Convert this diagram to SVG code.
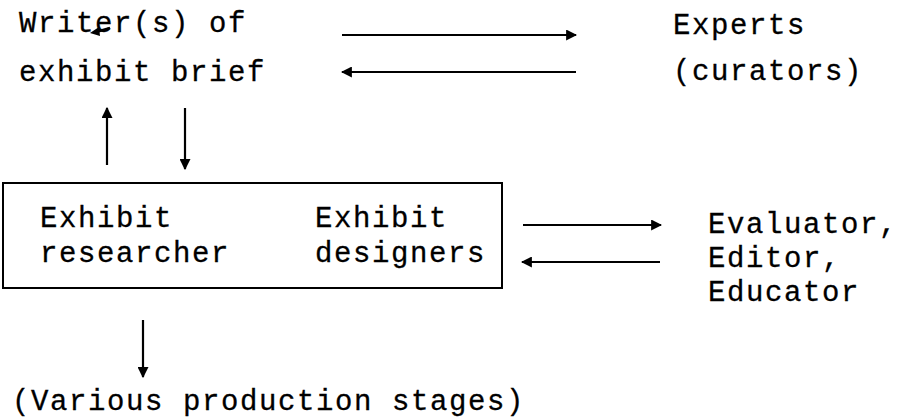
<svg xmlns="http://www.w3.org/2000/svg" width="897" height="419" viewBox="0 0 897 419">
<defs>
<marker id="ah" viewBox="0 0 10 10" refX="9" refY="5" markerWidth="5" markerHeight="5" orient="auto" markerUnits="strokeWidth">
<path d="M0,0 L10,5 L0,10 Z" fill="#000"/>
</marker>
</defs>
<style>
text{font-family:"Liberation Mono","Courier New",monospace;font-size:29px;letter-spacing:1.6px;fill:#000;stroke:#000;stroke-width:0.3}
.c{stroke:#000;stroke-width:2.2;fill:none;marker-end:url(#ah)}
</style>
<rect width="897" height="419" fill="#fff"/>
<g id="writers">
<text x="19" y="32">Writer(s) of</text>
<text x="19" y="81">exhibit brief</text>
<path d="M110,28 L96,32" stroke="#000" stroke-width="2.5" fill="none"/>
<path d="M90,33 L99,27 L100,36 Z" fill="#000"/>
</g>
<g id="experts">
<text x="673" y="34">Experts</text>
<text x="673" y="80">(curators)</text>
</g>
<g id="team">
<rect x="3" y="183" width="499" height="105" fill="none" stroke="#000" stroke-width="2"/>
<text x="40" y="227">Exhibit</text>
<text x="40" y="262">researcher</text>
<text x="315" y="227">Exhibit</text>
<text x="315" y="262">designers</text>
</g>
<g id="reviewers">
<text x="708" y="233">Evaluator,</text>
<text x="708" y="267">Editor,</text>
<text x="708" y="301">Educator</text>
</g>
<g id="production">
<text x="12" y="410">(Various production stages)</text>
</g>
<g id="connectors">
<line class="c" x1="342" y1="35" x2="576" y2="35"/>
<line class="c" x1="576" y1="72" x2="342" y2="72"/>
<line class="c" x1="107" y1="165" x2="107" y2="108"/>
<line class="c" x1="185" y1="108" x2="185" y2="169"/>
<line class="c" x1="523" y1="225" x2="661" y2="225"/>
<line class="c" x1="660" y1="262" x2="522" y2="262"/>
<line class="c" x1="143" y1="320" x2="143" y2="377"/>
</g>
</svg>
